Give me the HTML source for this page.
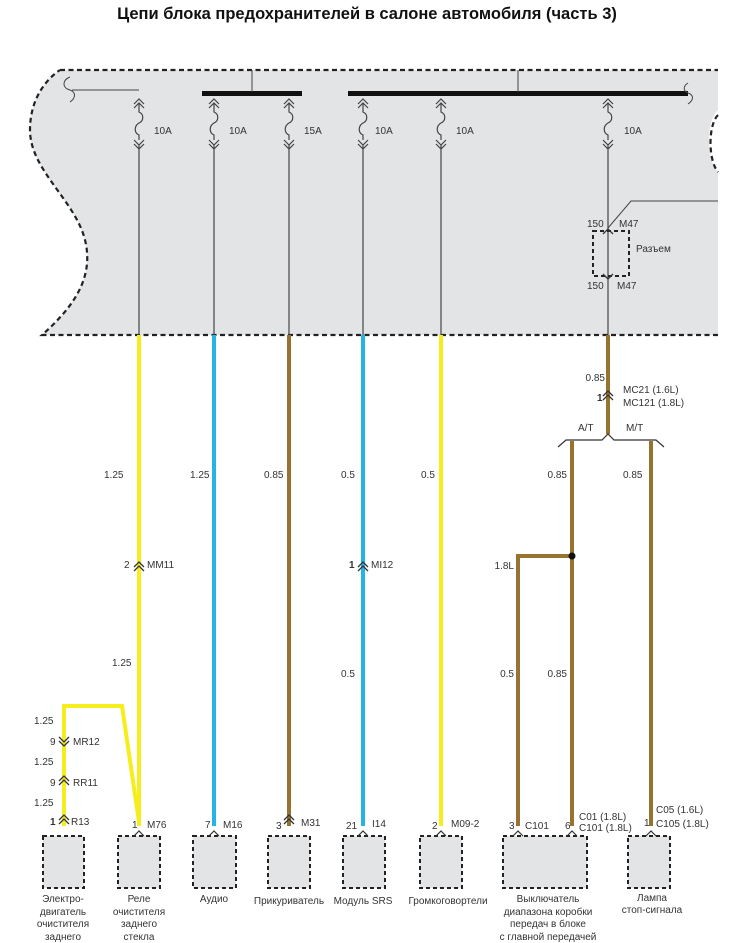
<!DOCTYPE html>
<html><head><meta charset="utf-8"><style>
html,body{margin:0;padding:0;background:#fff}
svg{display:block}
text{font-family:"Liberation Sans",sans-serif;font-size:10px;fill:#333}
</style></head><body>
<svg width="734" height="943" viewBox="0 0 734 943" xmlns="http://www.w3.org/2000/svg">
<defs>
<g id="f"><path d="M-5,104 L0,99 L5,104 M-5,108 L0,103 L5,108 M0,103 L0,112 C5,114 5,121 0,123 C-5,126 -5,133 0,135 L0,140 M-5,140 L0,145 L5,140 M-5,144 L0,149 L5,144 M0,145 L0,335"/></g>
</defs>
<text x="367" y="19" text-anchor="middle" style="font-size:16.5px;font-weight:bold;fill:#111">Цепи блока предохранителей в салоне автомобиля (часть 3)</text>
<!-- panel -->
<path d="M60,70 L718,70 L718,110 C706,120 706,160 718,172 L718,335 L42,335 C70,310 95,280 85,240 C75,200 30,170 30,130 C30,100 45,80 60,70 Z" fill="#e3e4e6"/>
<path d="M60,70 L718,70 M718,335 L42,335 C70,310 95,280 85,240 C75,200 30,170 30,130 C30,100 45,80 60,70" fill="none" stroke="#222" stroke-width="2.2" stroke-dasharray="5,3.5"/>
<path d="M718,115 C708,125 708,160 718,172" fill="none" stroke="#222" stroke-width="2.2" stroke-dasharray="5,3.5"/>
<!-- bus bars -->
<rect x="202" y="91" width="100" height="5" fill="#111"/>
<rect x="348" y="91" width="340" height="5" fill="#111"/>
<g stroke="#444" stroke-width="1" fill="none">
<line x1="252" y1="70" x2="252" y2="92"/>
<line x1="518" y1="70" x2="518" y2="92"/>
<path d="M70,77 C62,80 62,88 70,90 C76,92 76,98 70,102"/>
<line x1="72" y1="90" x2="139" y2="90"/>
<path d="M688,83 C683,86 683,91 688,93 C694,95 694,100 688,104"/>
<path d="M608,228 L631,201 L718,201"/>
</g>
<!-- fuses -->
<g stroke="#444" stroke-width="1.2" fill="none">
<use href="#f" x="139"/><use href="#f" x="214"/><use href="#f" x="289"/><use href="#f" x="363"/><use href="#f" x="441"/><use href="#f" x="608"/>
</g>
<text x="154" y="134">10A</text><text x="229" y="134">10A</text><text x="304" y="134">15A</text>
<text x="375" y="134">10A</text><text x="456" y="134">10A</text><text x="624" y="134">10A</text>
<!-- M47 -->
<rect x="593" y="231" width="36" height="45" fill="none" stroke="#222" stroke-width="2" stroke-dasharray="4,3"/>
<path d="M603,234 L608,229 L613,234 M603,274 L608,279 L613,274" stroke="#333" stroke-width="1.3" fill="none"/>
<text x="587" y="227">150</text><text x="619" y="227">M47</text>
<text x="636" y="252">Разъем</text>
<text x="587" y="289">150</text><text x="617" y="289">M47</text>
<!-- wires -->
<g fill="none" stroke-width="4">
<path d="M139,335 V826" stroke="#f6ee1c"/>
<path d="M214,335 V826" stroke="#22b5e6"/>
<path d="M289,335 V826" stroke="#977330"/>
<path d="M363,335 V826" stroke="#22b5e6"/>
<path d="M441,335 V826" stroke="#f6ee1c"/>
<path d="M608,335 V434" stroke="#977330"/>
<path d="M572,441 V826 M651,441 V826 M572,556 H518 V826" stroke="#977330"/>
<path d="M64,826 V706 H122 L139,822" stroke="#f6ee1c"/>
</g>
<path d="M558,447 L566,440 L602,440 L608,434 L614,440 L656,440 L664,447" stroke="#333" stroke-width="1.2" fill="none"/>
<circle cx="572" cy="556" r="3.5" fill="#111"/>
<!-- connector chevrons -->
<g stroke="#333" stroke-width="1.3" fill="none">
<path d="M603,396 L608,391 L613,396 M603,400 L608,395 L613,400"/>
<path d="M134,567 L139,562 L144,567 M134,571 L139,566 L144,571"/>
<path d="M358,567 L363,562 L368,567 M358,571 L363,566 L368,571"/>
<path d="M59,737 L64,742 L69,737 M59,741 L64,746 L69,741"/>
<path d="M59,781 L64,776 L69,781 M59,785 L64,780 L69,785"/>
<path d="M59,820 L64,815 L69,820 M59,824 L64,819 L69,824"/>
<path d="M284,820 L289,815 L294,820 M284,824 L289,819 L294,824"/>
</g>
<!-- labels -->
<text x="605" y="381" text-anchor="end">0.85</text>
<text x="597" y="401" style="font-weight:bold">1</text>
<text x="623" y="393">MC21 (1.6L)</text><text x="623" y="406">MC121 (1.8L)</text>
<text x="578" y="431">A/T</text><text x="626" y="431">M/T</text>
<text x="567" y="478" text-anchor="end">0.85</text><text x="623" y="478">0.85</text>
<text x="514" y="569" text-anchor="end">1.8L</text>
<text x="514" y="677" text-anchor="end">0.5</text><text x="567" y="677" text-anchor="end">0.85</text>
<text x="104" y="478">1.25</text><text x="190" y="478">1.25</text><text x="264" y="478">0.85</text>
<text x="341" y="478">0.5</text><text x="421" y="478">0.5</text>
<text x="124" y="568">2</text><text x="147" y="568">MM11</text>
<text x="349" y="568" style="font-weight:bold">1</text><text x="371" y="568">MI12</text>
<text x="112" y="666">1.25</text><text x="341" y="677">0.5</text>
<text x="34" y="724">1.25</text><text x="50" y="745">9</text><text x="73" y="745">MR12</text>
<text x="34" y="765">1.25</text><text x="50" y="786">9</text><text x="73" y="786">RR11</text>
<text x="34" y="806">1.25</text><text x="50" y="825" style="font-weight:bold">1</text><text x="71" y="825">R13</text>
<text x="132" y="828">1</text><text x="147" y="828">M76</text>
<text x="205" y="828">7</text><text x="223" y="828">M16</text>
<text x="276" y="829">3</text><text x="301" y="826">M31</text>
<text x="346" y="829">21</text><text x="372" y="827">I14</text>
<text x="432" y="829">2</text><text x="451" y="827">M09-2</text>
<text x="509" y="829">3</text><text x="525" y="829">C101</text>
<text x="565" y="829">6</text><text x="579" y="820">C01 (1.8L)</text><text x="579" y="831">C101 (1.8L)</text>
<text x="644" y="826">1</text><text x="656" y="813">C05 (1.6L)</text><text x="656" y="827">C105 (1.8L)</text>
<!-- boxes -->
<g fill="#e3e4e6" stroke="#222" stroke-width="2" stroke-dasharray="4,3">
<rect x="43" y="836" width="41" height="52"/><rect x="118" y="836" width="42" height="52"/>
<rect x="193" y="836" width="43" height="52"/><rect x="268" y="836" width="42" height="52"/>
<rect x="343" y="836" width="42" height="52"/><rect x="420" y="836" width="42" height="52"/>
<rect x="503" y="836" width="84" height="52"/><rect x="628" y="836" width="42" height="52"/>
</g>
<g stroke="#333" stroke-width="1.2" fill="none">
<path d="M134,836 L139,831 L144,836 M209,836 L214,831 L219,836 M358,836 L363,831 L368,836 M436,836 L441,831 L446,836 M513,836 L518,831 L523,836 M567,836 L572,831 L577,836 M646,836 L651,831 L656,836"/>
</g>
<g text-anchor="middle">
<text x="63" y="902">Электро-</text><text x="63" y="915">двигатель</text><text x="63" y="927">очистителя</text><text x="63" y="940">заднего</text>
<text x="139" y="902">Реле</text><text x="139" y="915">очистителя</text><text x="139" y="927">заднего</text><text x="139" y="940">стекла</text>
<text x="214" y="902">Аудио</text>
<text x="289" y="904">Прикуриватель</text>
<text x="363" y="904">Модуль SRS</text>
<text x="448" y="904">Громкоговортели</text>
<text x="548" y="902">Выключатель</text><text x="548" y="915">диапазона коробки</text><text x="548" y="927">передач в блоке</text><text x="548" y="940">с главной передачей</text>
<text x="652" y="901">Лампа</text><text x="652" y="913">стоп-сигнала</text>
</g>
</svg>
</body></html>
